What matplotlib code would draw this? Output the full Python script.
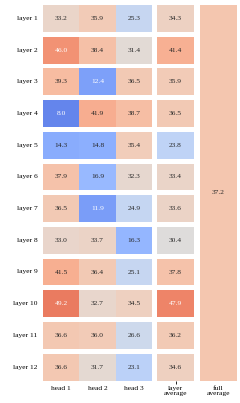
import numpy as np
import matplotlib
import matplotlib.pyplot as plt
import seaborn as sns

matplotlib.use('Agg')

# данные: значения по слоям и головам
layers = ['layer %d' % i for i in range(1, 13)]
heads = ['head 1', 'head 2', 'head 3']
head_1 = [33.2, 46.0, 39.3, 8.0, 14.3, 37.9, 36.5, 33.0, 41.5, 49.2, 36.6, 36.6]
head_2 = [35.9, 38.4, 12.4, 41.9, 14.8, 16.9, 11.9, 33.7, 36.4, 32.7, 36.0, 31.7]
head_3 = [25.3, 31.4, 36.5, 38.7, 35.4, 32.3, 24.9, 16.3, 25.1, 34.5, 26.6, 23.1]
layer_average = [34.3, 41.4, 35.9, 36.5, 23.8, 33.4, 33.6, 30.4, 37.8, 47.9, 36.2, 34.6]
full_average = 37.2

plt.rcParams['font.family'] = ['Liberation Serif', 'DejaVu Serif']
FS = 5.4
VMIN, VMAX = 0, 60
CMAP = 'coolwarm'

W, H = 240, 403
fig = plt.figure(figsize=(W / 100, H / 100), dpi=100)


def px_axes(x0, y0, x1, y1):
    """оси по пиксельным координатам (от верхнего левого угла)"""
    return fig.add_axes([x0 / W, 1 - y1 / H, (x1 - x0) / W, (y1 - y0) / H])


heads_data = np.array([head_1, head_2, head_3]).T
top, pitch, row_h = 5, 31.7, 26.8

for i, name in enumerate(layers):
    y0 = top + i * pitch
    y1 = y0 + row_h
    last = i == len(layers) - 1

    ax = px_axes(43, y0, 152, y1)
    sns.heatmap(heads_data[i:i + 1], ax=ax, cmap=CMAP, vmin=VMIN, vmax=VMAX,
                annot=True, fmt='.1f', cbar=False, annot_kws={'fontsize': FS})
    ax.set_yticks([0.5])
    ax.set_yticklabels([name], rotation=0, fontsize=FS)
    ax.tick_params(axis='y', length=0, pad=3.8)
    if last:
        ax.set_xticks([0.5, 1.5, 2.5])
        ax.set_xticklabels(heads, fontsize=FS)
        ax.tick_params(axis='x', length=0, pad=4)
    else:
        ax.set_xticks([])

    ax2 = px_axes(157, y0, 194, y1)
    sns.heatmap(np.array([[layer_average[i]]]), ax=ax2, cmap=CMAP, vmin=VMIN, vmax=VMAX,
                annot=True, fmt='.1f', cbar=False, annot_kws={'fontsize': FS})
    ax2.set_yticks([])
    if last:
        ax2.set_xticks([0.5])
        ax2.set_xticklabels(['layer\naverage'], fontsize=FS, linespacing=0.95)
        ax2.tick_params(axis='x', length=2, width=0.6, pad=1.8)
    else:
        ax2.set_xticks([])

ax3 = px_axes(200, top, 237, top + 11 * pitch + row_h)
sns.heatmap(np.array([[full_average]]), ax=ax3, cmap=CMAP, vmin=VMIN, vmax=VMAX,
            annot=True, fmt='.1f', cbar=False, annot_kws={'fontsize': FS})
ax3.set_yticks([])
ax3.set_xticks([0.5])
ax3.set_xticklabels(['full\naverage'], fontsize=FS, linespacing=0.95)
ax3.tick_params(axis='x', length=0, pad=4)

fig.savefig('out.png', dpi=100)
